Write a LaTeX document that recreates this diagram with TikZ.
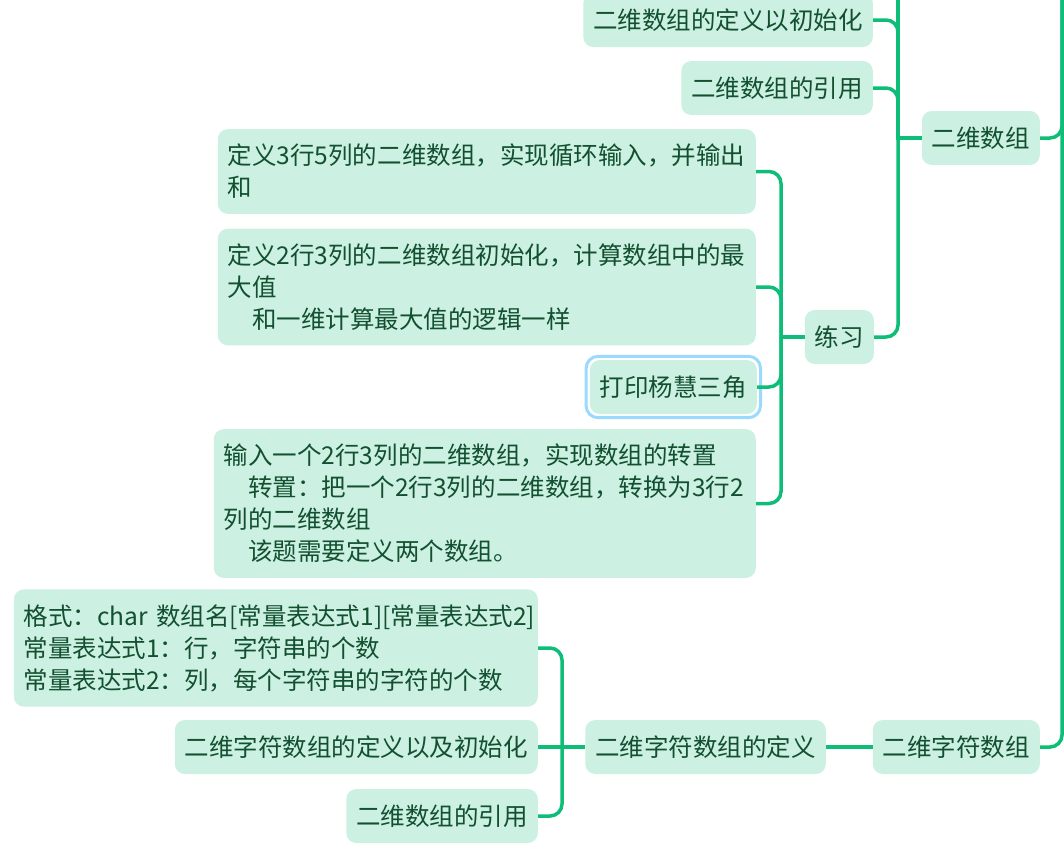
\documentclass[tikz,border=0pt]{standalone}
\usepackage{fontspec}
\setmainfont{Noto Sans CJK SC}
\usepackage{tikz}
\usetikzlibrary{fit, positioning}
\definecolor{topicfill}{RGB}{204, 240, 226}
\definecolor{topictext}{RGB}{18, 80, 48}
\definecolor{linkgreen}{RGB}{14, 190, 120}
\definecolor{selblue}{RGB}{155, 218, 255}

\tikzset{
  topic/.style={fill=topicfill, text=topictext, rounded corners=10pt,
                inner xsep=10pt, inner ysep=15pt, minimum height=54pt,
                anchor=east, font=\fontsize{24.5}{32}\selectfont},
  note/.style={topic, align=left, text width=#1},
  link/.style={draw=linkgreen, line width=3.5pt, rounded corners=12pt},
}

\begin{document}
\begin{tikzpicture}[x=1pt, y=-1pt]
  \clip (0,0) rectangle (1064,847);

  % 二维数组
  \node[topic] (dingyi) at (873, 20) {二维数组的定义以初始化};
  \node[topic] (yinyong) at (873, 88) {二维数组的引用};
  \node[topic] (ewsz) at (1040, 138) {二维数组};
  \node[topic] (lianxi) at (874, 337) {练习};

  % 练习
  \node[note=518pt] (lx1) at (756, 171.5) {定义3行5列的二维数组，实现循环输入，并输出\\和};
  \node[note=518pt] (lx2) at (756, 287) {定义2行3列的二维数组初始化，计算数组中的最\\大值\\\hspace*{1em}和一维计算最大值的逻辑一样};
  \node[topic] (yanghui) at (757, 387) {打印杨慧三角};
  \node[draw=selblue, line width=3pt, rounded corners=12pt, inner sep=3.5pt,
        fit=(yanghui)] (sel) {};
  \node[note=522pt] (lx4) at (756, 503.5) {输入一个2行3列的二维数组，实现数组的转置\\\hspace*{1em}转置：把一个2行3列的二维数组，转换为3行2\\列的二维数组\\\hspace*{1em}该题需要定义两个数组。};

  % 二维字符数组
  \node[note=504pt] (geshi) at (538, 648) {格式：char 数组名[常量表达式1][常量表达式2]\\常量表达式1：行，字符串的个数\\常量表达式2：列，每个字符串的字符的个数};
  \node[topic] (zfdy) at (538, 747) {二维字符数组的定义以及初始化};
  \node[topic] (zfyy) at (538, 816) {二维数组的引用};
  \node[topic] (zfsz) at (826, 747) {二维字符数组的定义};
  \node[topic] (zfroot) at (1040, 747) {二维字符数组};

  % connectors
  \coordinate (top) at (898, -20);
  \coordinate (roottop) at (1062, -20);
  \coordinate (lxhub) at (781, 337);
  \coordinate (zfhub) at (562, 747);

  \draw[link, sharp corners] (top) -- (top |- ewsz.west) -- (ewsz.west);
  \draw[link] (dingyi.east) -| (top |- ewsz.west);
  \draw[link] (yinyong.east) -| (top |- ewsz.west);
  \draw[link] (lianxi.east) -| (top |- ewsz.west);

  \foreach \n in {lx1, lx2, yanghui, lx4}
    \draw[link] (\n.east) -| (lxhub);
  \draw[link] (lxhub) -- (lianxi.west);

  \foreach \n in {geshi, zfyy}
    \draw[link] (\n.east) -| (zfhub);
  \draw[link] (zfdy.east) -- (zfsz.west);
  \draw[link] (zfsz.east) -- (zfroot.west);

  \draw[link] (ewsz.east) -| (roottop);
  \draw[link] (zfroot.east) -| (roottop);
\end{tikzpicture}
\end{document}
